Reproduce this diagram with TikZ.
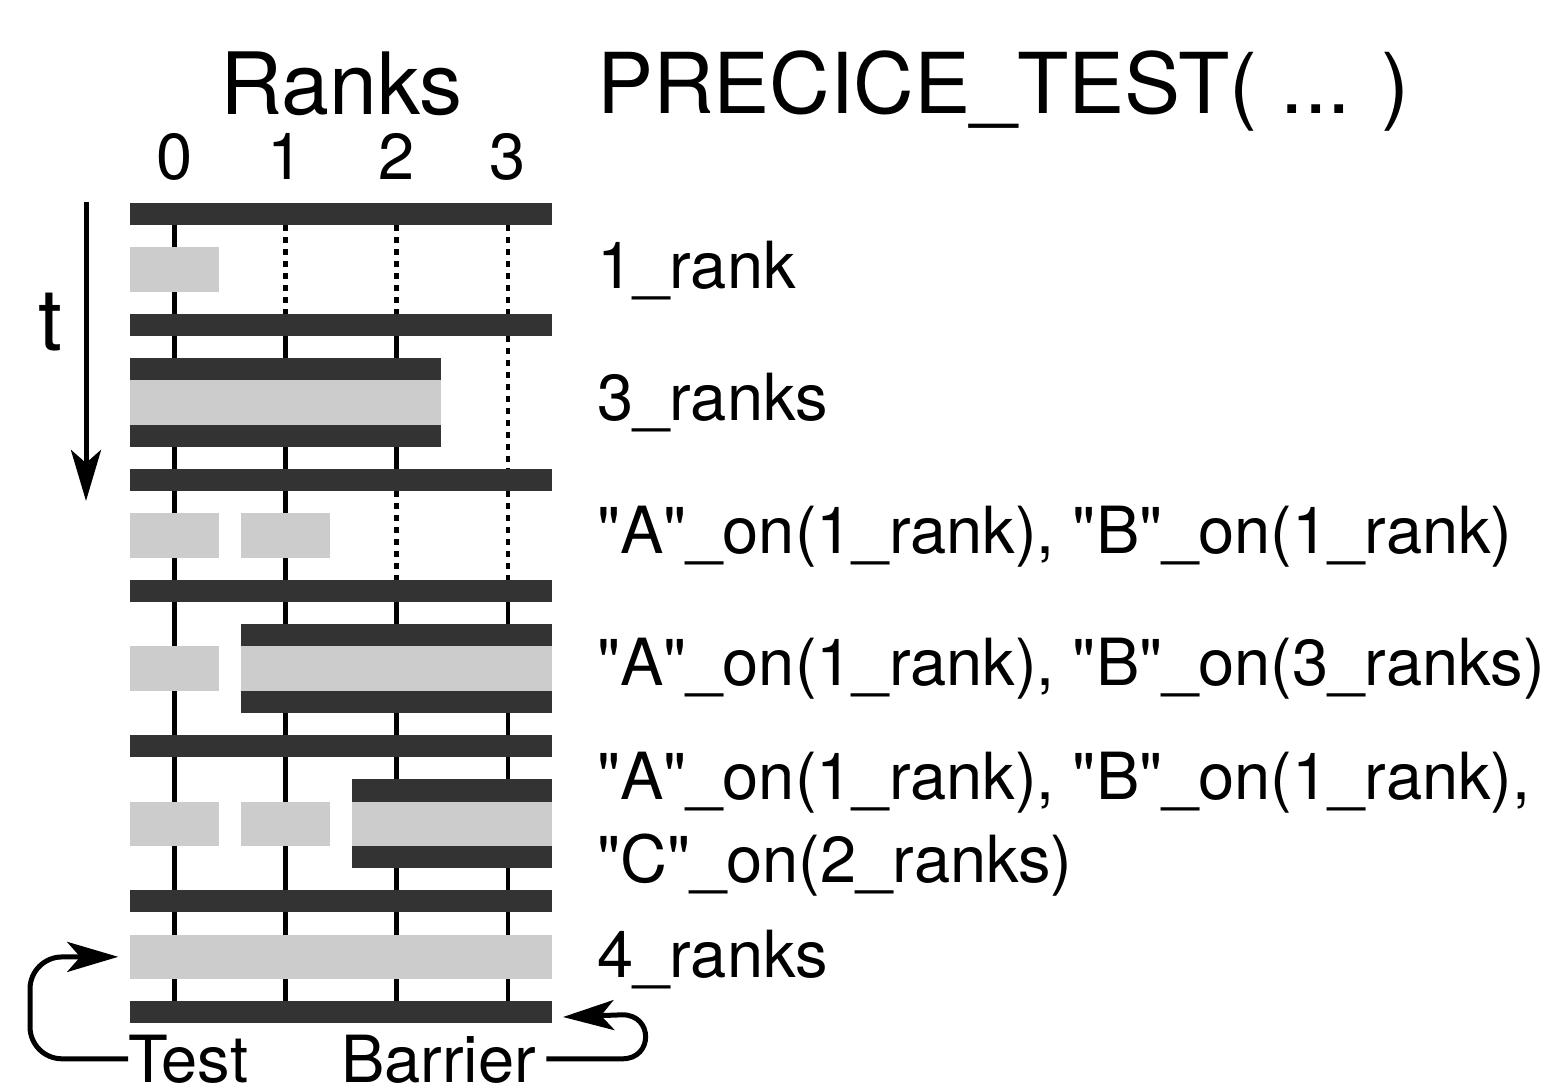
\documentclass[tikz,border=0pt]{standalone}
\usepackage{fontspec}
\setmainfont{TeX Gyre Heros}[Ligatures=TeXOff]
\usetikzlibrary{arrows.meta}
\definecolor{bardark}{HTML}{333333}
\definecolor{boxgrey}{HTML}{CCCCCC}
\begin{document}
\begin{tikzpicture}[x=1pt,y=-1pt,
  bar/.style={fill=bardark, draw=none, inner sep=0pt, outer sep=0pt, anchor=north west, minimum height=22.17pt},
  cell/.style={fill=boxgrey, draw=none, inner sep=0pt, outer sep=0pt, anchor=north west, minimum height=44.34pt},
  w1/.style={minimum width=88.6pt},
  w2/.style={minimum width=199.7pt},
  w3/.style={minimum width=310.8pt},
  w4/.style={minimum width=421.9pt},
  active/.style={line width=4.5pt},
  idle/.style={line width=4.5pt, dash pattern=on 6pt off 6pt},
  big/.style={font=\fontsize{86}{100}\selectfont, inner sep=0pt, anchor=base},
  lbl/.style={font=\fontsize{65}{80}\selectfont, inner sep=0pt, anchor=base west},
  arrowline/.style={line width=5pt, -{Stealth[length=51pt, width=30pt, inset=13pt]}}
]
\useasboundingbox (0,0) rectangle (1551,1088);

% rank life lines: solid while the rank takes part, dotted while it idles
\draw[active] (174.5,214) -- (174.5,1012);
\draw[idle]   (285.6,225.17) -- (285.6,313.85);
\draw[active] (285.6,325) -- (285.6,1012);
\draw[idle]   (396.7,225.17) -- (396.7,313.85);
\draw[active] (396.7,325) -- (396.7,480);
\draw[idle]   (396.7,491.21) -- (396.7,579.89);
\draw[active] (396.7,591) -- (396.7,1012);
\draw[idle]   (507.8,225.17) -- (507.8,313.85);
\draw[idle]   (507.8,336.02) -- (507.8,469.04);
\draw[idle]   (507.8,491.21) -- (507.8,579.89);
\draw[active] (507.8,591) -- (507.8,1012);

% barriers and test blocks
\node[bar,w4]  (b0)  at (130.2,203) {};
\node[cell,w1] (g1)  at (130.2,247.34) {};
\node[bar,w4]  (b1)  at (130.2,313.85) {};
\node[bar,w3]  (d2a) at (130.2,358.19) {};
\node[cell,w3] (g2)  at (130.2,380.36) {};
\node[bar,w3]  (d2b) at (130.2,424.7) {};
\node[bar,w4]  (b2)  at (130.2,469.04) {};
\node[cell,w1] (g3a) at (130.2,513.38) {};
\node[cell,w1] (g3b) at (241.3,513.38) {};
\node[bar,w4]  (b3)  at (130.2,579.89) {};
\node[bar,w3]  (d4a) at (241.3,624.23) {};
\node[cell,w1] (g4a) at (130.2,646.4) {};
\node[cell,w3] (g4b) at (241.3,646.4) {};
\node[bar,w3]  (d4b) at (241.3,690.74) {};
\node[bar,w4]  (b4)  at (130.2,735.08) {};
\node[bar,w2]  (d5a) at (352.4,779.42) {};
\node[cell,w1] (g5a) at (130.2,801.59) {};
\node[cell,w1] (g5b) at (241.3,801.59) {};
\node[cell,w2] (g5c) at (352.4,801.59) {};
\node[bar,w2]  (d5b) at (352.4,845.93) {};
\node[bar,w4]  (b5)  at (130.2,890.27) {};
\node[cell,w4] (g6)  at (130.2,934.61) {};
\node[bar,w4]  (b6)  at (130.2,1001.12) {};

% headings
\node[big] (ranks) at (341.5,114) {Ranks};
\node[big, anchor=base west, font=\fontsize{84}{100}\selectfont] (title) at (597,113) {PRECICE\_TEST( ... )};
\node[lbl, anchor=base] (r0) at (174.5,179) {0};
\node[lbl, anchor=base] (r1) at (285.6,179) {1};
\node[lbl, anchor=base] (r2) at (396.7,179) {2};
\node[lbl, anchor=base] (r3) at (507.8,179) {3};

% time axis
\node[big] (t) at (50,350) {t};
\coordinate (tTop) at (86,202);
\coordinate (tTip) at (86,501);
\draw[arrowline] (tTop) -- (tTip);

% test labels
\node[lbl] (l1) at (597,288) {1\_rank};
\node[lbl] (l2) at (597,420) {3\_ranks};
\node[lbl] (l3) at (597,553) {"A"\_on(1\_rank), "B"\_on(1\_rank)};
\node[lbl] (l4) at (597,685) {"A"\_on(1\_rank), "B"\_on(3\_ranks)};
\node[lbl] (l5) at (597,799) {"A"\_on(1\_rank), "B"\_on(1\_rank),};
\node[lbl] (l6) at (597,882) {"C"\_on(2\_ranks)};
\node[lbl] (l7) at (597,977) {4\_ranks};

% legend
\node[lbl] (test) at (128,1082) {Test};
\node[lbl] (barrier) at (341,1082) {Barrier};
\draw[arrowline, rounded corners=32pt, shorten >=12pt] (test.west) -| (30,957) -- (g6.west);
\coordinate (barrierTip) at (563,1017);
\draw[arrowline, shorten <=10pt] (barrier.east) -- ++(86,0)
  .. controls +(31,0) and +(31,0) .. ++(0,-44) -- (barrierTip);
\end{tikzpicture}
\end{document}
